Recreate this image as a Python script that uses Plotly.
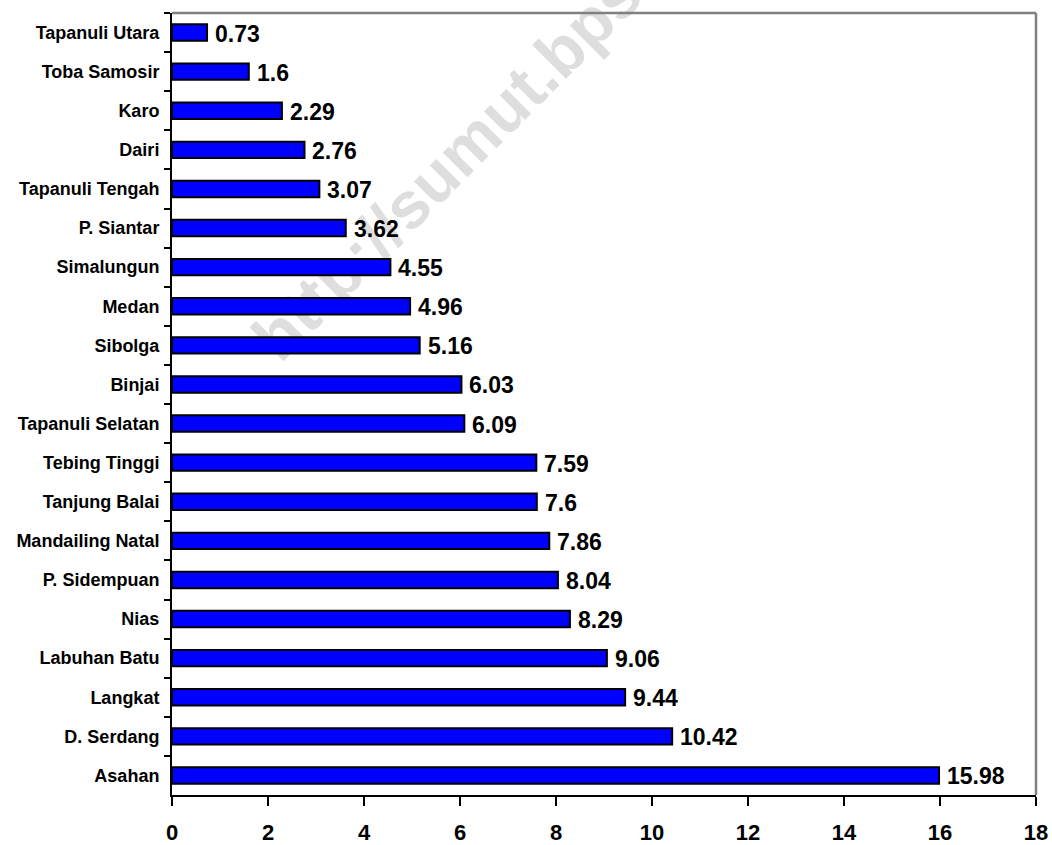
import plotly.graph_objects as go

regions = ["Tapanuli Utara", "Toba Samosir", "Karo", "Dairi", "Tapanuli Tengah",
           "P. Siantar", "Simalungun", "Medan", "Sibolga", "Binjai",
           "Tapanuli Selatan", "Tebing Tinggi", "Tanjung Balai", "Mandailing Natal",
           "P. Sidempuan", "Nias", "Labuhan Batu", "Langkat", "D. Serdang", "Asahan"]
values = [0.73, 1.6, 2.29, 2.76, 3.07, 3.62, 4.55, 4.96, 5.16, 6.03,
          6.09, 7.59, 7.6, 7.86, 8.04, 8.29, 9.06, 9.44, 10.42, 15.98]
value_labels = ["0.73", "1.6", "2.29", "2.76", "3.07", "3.62", "4.55", "4.96", "5.16", "6.03",
                "6.09", "7.59", "7.6", "7.86", "8.04", "8.29", "9.06", "9.44", "10.42", "15.98"]
x_ticks = [0, 2, 4, 6, 8, 10, 12, 14, 16, 18]

FONT = "Liberation Sans, Arial, sans-serif"

fig = go.Figure()
fig.add_trace(go.Bar(
    x=values, y=regions, orientation="h",
    marker=dict(color="#0000FF", line=dict(color="black", width=2)),
    width=0.42, showlegend=False, hoverinfo="x+y",
))

annotations = []
for r, v, t in zip(regions, values, value_labels):
    annotations.append(dict(x=v, y=r, xref="x", yref="y", text=t, showarrow=False,
                            xanchor="left", yanchor="middle", xshift=6, yshift=-1,
                            font=dict(family=FONT, size=23, color="black", weight="bold")))

shapes = [
    # gray frame top & right
    dict(type="line", xref="paper", yref="paper", x0=0, x1=1, y0=1, y1=1,
         line=dict(color="#808080", width=2.5)),
    dict(type="line", xref="paper", yref="paper", x0=1, x1=1, y0=0, y1=1,
         line=dict(color="#808080", width=2.5)),
    # watermark (behind bars)
    dict(type="rect", xref="paper", yref="paper", x0=0.375, x1=0.395, y0=0.88, y1=0.90,
         line=dict(width=0), fillcolor="rgba(0,0,0,0)", layer="below",
         label=dict(text="http://sumut.bps.go.id", textangle=-45, textposition="middle center",
                    font=dict(family=FONT, size=66, color="#dedede", weight="bold"))),
]

fig.update_layout(
    width=1052, height=845,
    margin=dict(l=172, r=16, t=13, b=50),
    paper_bgcolor="white", plot_bgcolor="white",
    annotations=annotations, shapes=shapes,
    xaxis=dict(range=[0, 18], tickvals=x_ticks, ticktext=[str(t) for t in x_ticks],
               automargin=False,
               showgrid=False, zeroline=False, showline=True, linecolor="black", linewidth=2,
               ticks="outside", ticklen=9, tickwidth=2, tickcolor="black",
               ticklabelstandoff=8,
               tickfont=dict(family=FONT, size=22, color="black", weight="bold")),
    yaxis=dict(type="category", autorange="reversed", showgrid=False, zeroline=False,
               automargin=False,
               showline=True, linecolor="black", linewidth=2,
               ticks="outside", ticklen=6, tickwidth=2, tickcolor="black",
               tickson="boundaries", ticklabelstandoff=7,
               tickfont=dict(family=FONT, size=18, color="black", weight="bold")),
)

fig.write_html("out.html")
